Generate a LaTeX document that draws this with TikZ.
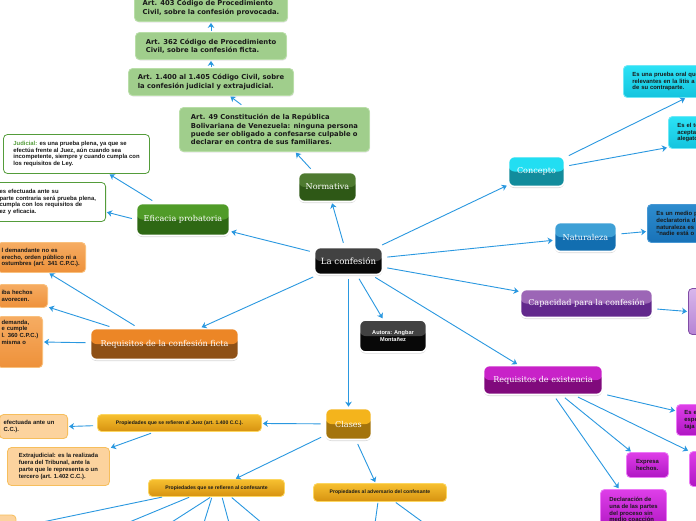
\documentclass[tikz,border=0pt]{standalone}
\usepackage{fontspec}
\setmainfont{Liberation Sans}
\newfontfamily\verd{DejaVu Sans}
\newfontfamily\titlef{DejaVu Serif}
\usetikzlibrary{arrows.meta,shadows}

\definecolor{linkblue}{RGB}{42,152,224}
\definecolor{inktext}{RGB}{25,25,25}
\definecolor{artgreen}{RGB}{160,206,140}
\definecolor{artedge}{RGB}{185,222,168}
\definecolor{judgreen}{RGB}{84,156,58}
\definecolor{normtop}{RGB}{78,122,48}
\definecolor{normbot}{RGB}{46,88,22}
\definecolor{efftop}{RGB}{80,155,40}
\definecolor{effbot}{RGB}{46,104,20}
\definecolor{blacktop}{RGB}{66,66,66}
\definecolor{blackbot}{RGB}{8,8,8}
\definecolor{fictatop}{RGB}{236,134,38}
\definecolor{fictabot}{RGB}{142,80,22}
\definecolor{orangetop}{RGB}{246,172,98}
\definecolor{orangebot}{RGB}{238,145,58}
\definecolor{orangeedge}{RGB}{249,192,125}
\definecolor{clasestop}{RGB}{244,180,28}
\definecolor{clasesbot}{RGB}{164,116,12}
\definecolor{goldtop}{RGB}{247,192,48}
\definecolor{goldbot}{RGB}{214,146,16}
\definecolor{goldedge}{RGB}{252,214,96}
\definecolor{peach}{RGB}{252,211,158}
\definecolor{peachedge}{RGB}{246,190,92}
\definecolor{concepttop}{RGB}{34,222,242}
\definecolor{conceptbot}{RGB}{18,140,156}
\definecolor{cyantop}{RGB}{44,226,246}
\definecolor{cyanbot}{RGB}{20,196,222}
\definecolor{cyanedge}{RGB}{112,232,246}
\definecolor{naturtop}{RGB}{62,160,214}
\definecolor{naturbot}{RGB}{18,110,176}
\definecolor{bluetop}{RGB}{46,140,206}
\definecolor{bluebot}{RGB}{24,114,184}
\definecolor{blueedge}{RGB}{72,152,212}
\definecolor{capactop}{RGB}{156,102,182}
\definecolor{capacbot}{RGB}{98,40,140}
\definecolor{lilactop}{RGB}{216,182,236}
\definecolor{lilacbot}{RGB}{182,132,212}
\definecolor{lilacedge}{RGB}{128,76,166}
\definecolor{existtop}{RGB}{200,34,200}
\definecolor{existbot}{RGB}{128,10,124}
\definecolor{magtop}{RGB}{222,62,232}
\definecolor{magbot}{RGB}{176,22,196}
\definecolor{magedge}{RGB}{236,122,246}

\tikzset{
  link/.style={draw=linkblue, line width=0.9pt, -{Stealth[length=5pt,width=6.5pt,inset=1.5pt]}, shorten <=4pt, shorten >=1pt},
  glossy/.style 2 args={rectangle, rounded corners=6pt, draw=white, line width=1.6pt, fill=#2, text=white, align=center,
    font=\titlef\fontsize{8.1}{9}\selectfont,
    drop shadow={shadow xshift=0pt, shadow yshift=-1.5pt, opacity=.3},
    path picture={\fill[#1] (path picture bounding box.north west) rectangle (path picture bounding box.east);}},
  artbox/.style={rectangle, rounded corners=4pt, draw=artedge, line width=.8pt, fill=artgreen, text=inktext, align=left,
    font=\verd\bfseries\fontsize{6.8}{8.3}\selectfont, drop shadow={shadow xshift=.5pt, shadow yshift=-1pt, opacity=.2}},
  notebox/.style n args={3}{rectangle, rounded corners=4pt, line width=.8pt, draw=#3, top color=#1, bottom color=#2,
    text=inktext, align=left, font=\bfseries\fontsize{5.9}{6.8}\selectfont},
  smallnote/.style={font=\bfseries\fontsize{5.1}{6.2}\selectfont}
}

\begin{document}
\begin{tikzpicture}[x=1pt,y=-1pt]
\useasboundingbox (0,0) rectangle (696,520);
\clip (0,0) rectangle (696,520);
\fill[white] (0,0) rectangle (696,520);

\node[glossy={blacktop}{blackbot}, minimum width=68pt, minimum height=27pt, font=\titlef\fontsize{8.6}{9.5}\selectfont] (conf) at (348.5,261) {La confesión};
\node[glossy={blacktop}{blackbot}, minimum width=67pt, minimum height=32pt, font=\bfseries\fontsize{5.6}{7}\selectfont] (autora) at (393,336) {Autora: Angbar\\Montañez};

\node[glossy={normtop}{normbot}, minimum width=58pt, minimum height=29pt] (normativa) at (327.5,187) {Normativa};
\node[artbox, minimum width=190pt, minimum height=44pt] (art49) at (274.5,129.5) {Art. 49 Constitución de la República\\Bolivariana de Venezuela: ninguna persona\\puede ser obligado a confesarse culpable o\\declarar en contra de sus familiares.};
\node[artbox, minimum width=165pt, minimum height=27pt] (art1400) at (211,82) {Art. 1.400 al 1.405 Código Civil, sobre\\la confesión judicial y extrajudicial.};
\node[artbox, minimum width=151pt, minimum height=27pt] (art362) at (211,46) {Art. 362 Código de Procedimiento\\Civil, sobre la confesión ficta.};
\node[artbox, minimum width=153pt, minimum height=27pt] (art403) at (211,8) {Art. 403 Código de Procedimiento\\Civil, sobre la confesión provocada.};

\node[glossy={efftop}{effbot}, minimum width=93pt, minimum height=32pt] (eficacia) at (183,219.5) {Eficacia probatoria};
\node[notebox={white}{white}{judgreen}, minimum width=146pt, minimum height=39pt] (judicial) at (76.5,154) {{\color{judgreen}Judicial:} es una prueba plena, ya que se\\efectúa frente al Juez, aún cuando sea\\incompetente, siempre y cuando cumpla con\\los requisitos de Ley.};
\node[notebox={white}{white}{judgreen}, anchor=east, text width=102pt, inner xsep=4pt, minimum height=39pt] (extraj) at (106,202) {es efectuada ante su\\parte contraria será prueba plena,\\cumpla con los requisitos de\\ez y eficacia.};

\node[glossy={fictatop}{fictabot}, minimum width=148pt, minimum height=31pt] (ficta) at (164.5,344) {Requisitos de la confesión ficta};
\node[notebox={orangetop}{orangebot}{orangeedge}, anchor=east, text width=80pt, inner xsep=4pt, minimum height=30pt] (fictaA) at (86,257.5) {l demandante no es\\erecho, orden público ni a\\ostumbres (art. 341 C.P.C.).};
\node[notebox={orangetop}{orangebot}{orangeedge}, anchor=east, text width=42pt, inner xsep=4pt, minimum height=23pt] (fictaB) at (48,296) {iba hechos\\avorecen.};
\node[notebox={orangetop}{orangebot}{orangeedge}, anchor=east, text width=37pt, inner xsep=4pt, minimum height=51pt] (fictaC) at (43,342) {demanda,\\e cumple\\l. 360 C.P.C.)\\misma o\\[13pt]\mbox{}};

\node[glossy={clasestop}{clasesbot}, minimum width=46pt, minimum height=31pt] (clases) at (348.5,424) {Clases};
\node[notebox={goldtop}{goldbot}{goldedge}, smallnote, minimum width=164pt, minimum height=17pt] (juez) at (179.5,423) {Propiedades que se refieren al Juez (art. 1.400 C.C.).};
\node[notebox={peach}{peach}{peachedge}, anchor=east, text width=60pt, inner xsep=4pt, minimum height=24pt] (juezA) at (68,426.5) {efectuada ante un\\C.C.).};
\node[notebox={peach}{peach}{peachedge}, minimum width=102pt, minimum height=38pt] (extra) at (58.5,466.5) {Extrajudicial: es la realizada\\fuera del Tribunal, ante la\\parte que le representa o un\\tercero (art. 1.402 C.C.).};
\node[notebox={goldtop}{goldbot}{goldedge}, smallnote, minimum width=136pt, minimum height=17pt] (confesante) at (216.5,488) {Propiedades que se refieren al confesante};
\node[notebox={peach}{peach}{peachedge}, minimum width=96pt, minimum height=45pt] (confA) at (-32,537.5) {};
\node[notebox={goldtop}{goldbot}{goldedge}, smallnote, minimum width=133pt, minimum height=18pt] (adversario) at (380,492.5) {Propiedades al adversario del confesante};

\node[glossy={concepttop}{conceptbot}, minimum width=56pt, minimum height=30pt] (concepto) at (536.5,171.5) {Concepto};
\node[notebox={cyantop}{cyanbot}{cyanedge}, anchor=west, text width=130pt, inner xsep=9pt, minimum height=32pt] (concA) at (623,81.5) {Es una prueba oral que\\relevantes en la litis a\\de su contraparte.};
\node[notebox={cyantop}{cyanbot}{cyanedge}, anchor=west, text width=110pt, inner xsep=9pt, minimum height=32pt] (concB) at (668,132.5) {Es el te\\aceptac\\alegato};

\node[glossy={naturtop}{naturbot}, minimum width=62pt, minimum height=29pt] (naturaleza) at (585.5,237) {Naturaleza};
\node[notebox={bluetop}{bluebot}{blueedge}, anchor=west, text width=110pt, inner xsep=9pt, minimum height=38pt] (natA) at (647,223.5) {Es un medio p\\declaratoria d\\naturaleza es\\“nadie está o};

\node[glossy={capactop}{capacbot}, minimum width=132pt, minimum height=28pt] (capacidad) at (586.5,303.5) {Capacidad para la confesión};
\node[notebox={lilactop}{lilacbot}{lilacedge}, anchor=west, text width=90pt, inner xsep=9pt, minimum height=46pt] (capA) at (688,311.5) {};

\node[glossy={existtop}{existbot}, minimum width=119pt, minimum height=29pt] (existencia) at (543,380) {Requisitos de existencia};
\node[notebox={magtop}{magbot}{magedge}, anchor=west, text width=90pt, inner xsep=8pt, minimum height=31pt] (exA) at (676,420) {Es e\\espe\\taja};
\node[notebox={magtop}{magbot}{magedge}, anchor=west, text width=90pt, inner xsep=8pt, minimum height=35pt] (exB) at (689,469) {};
\node[notebox={magtop}{magbot}{magedge}, minimum width=42pt, minimum height=25pt] (expresa) at (647.5,465) {Expresa\\hechos.};
\node[notebox={magtop}{magbot}{magedge}, minimum width=66pt, minimum height=40pt] (declaracion) at (633.5,509.5) {Declaración de\\una de las partes\\del proceso sin\\medio coacción};

\draw[link] (conf) -- (normativa);
\draw[link] (conf) -- (eficacia);
\draw[link] (conf) -- (ficta);
\draw[link] (conf) -- (clases);
\draw[link] (conf) -- (autora);
\draw[link] (conf) -- (concepto);
\draw[link] (conf) -- (naturaleza);
\draw[link] (conf) -- (capacidad);
\draw[link] (conf) -- (existencia);

\draw[link] (normativa) -- (art49);
\draw[link] (art49) -- (art1400);
\draw[link, shorten <=1pt] (art1400) -- (art362);
\draw[link, shorten <=1pt] (art362) -- (art403);

\draw[link] (eficacia) -- (judicial);
\draw[link] (eficacia.west) -- ([yshift=-10pt]extraj.east);

\draw[link] (ficta) -- ([xshift=7pt]fictaA.south);
\draw[link] (ficta) -- ([yshift=-11pt]fictaB.east);
\draw[link] (ficta) -- (fictaC.east);

\draw[link] (clases) -- (juez);
\draw[link] (juez) -- (juezA.east);
\draw[link] (juez) -- (extra);
\draw[link] (clases) -- (confesante);
\draw[link] (clases) -- (adversario);

\foreach \n/\x in {c2/74, c3/136, c4/197, c5/235, c6/288, c7/372, c8/454}
  \coordinate (\n) at (\x,545);
\draw[link, shorten <=1pt] ([xshift=-53.5pt]confesante.south) -- (confA);
\foreach \dx/\n in {-26.5/c2, -5.5/c3, -4.5/c4, 5.5/c5, 14.5/c6}
  \draw[link, shorten <=1pt] ([xshift=\dx pt]confesante.south) -- (\n);
\foreach \dx/\n in {-2/c7, 15/c8}
  \draw[link, shorten <=1pt] ([xshift=\dx pt]adversario.south) -- (\n);

\draw[link] (concepto) -- ([xshift=63pt]concA.south west);
\draw[link] (concepto) -- ([yshift=-15pt]concB.west);
\draw[link] (naturaleza) -- ([yshift=-8pt]natA.west);
\draw[link] (capacidad) -- (capA.west);
\draw[link] (existencia) -- ([yshift=9pt]exA.west);
\draw[link] (existencia) -- (exB.north west);
\draw[link] (existencia) -- (expresa);
\draw[link] (existencia) -- (declaracion);
\end{tikzpicture}
\end{document}
